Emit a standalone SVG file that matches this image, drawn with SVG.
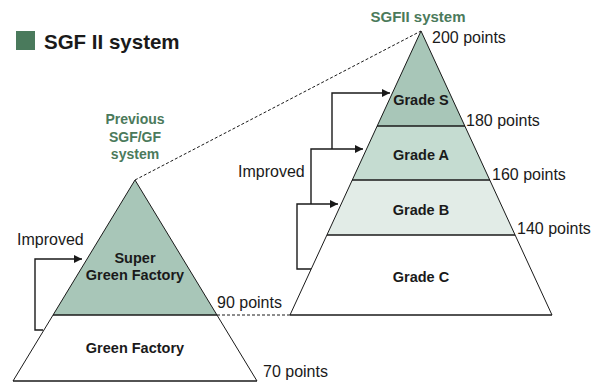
<svg xmlns="http://www.w3.org/2000/svg" width="597" height="382" viewBox="0 0 597 382">
  <style>
    text { font-family: "Liberation Sans", Arial, sans-serif; fill: #1a1a1a; }
    .lbl { font-size: 16px; }
    .tier { font-size: 14.5px; font-weight: bold; text-anchor: middle; }
    .green { fill: #4b7a5b; font-weight: bold; text-anchor: middle; }
    .edge { stroke: #1a1a1a; stroke-width: 1; fill: none; }
    .div { stroke: #1a1a1a; stroke-width: 1.4; }
    .dash { stroke: #1a1a1a; stroke-width: 1; stroke-dasharray: 3 2; fill: none; }
    .arrow { stroke: #1a1a1a; stroke-width: 1.4; fill: none; marker-end: url(#head); }
  </style>
  <defs>
    <marker id="head" viewBox="0 0 10 10" refX="10" refY="5" markerWidth="10" markerHeight="8" markerUnits="userSpaceOnUse" orient="auto">
      <path d="M0,0 L10,5 L0,10 Z" fill="#1a1a1a"/>
    </marker>
  </defs>

  <rect width="597" height="382" fill="#ffffff"/>

  <!-- heading -->
  <g id="heading">
    <rect x="16" y="31" width="19" height="19" fill="#4a7a5c"/>
    <text x="44" y="49" font-size="20.5" font-weight="bold">SGF II system</text>
  </g>

  <!-- previous SGF/GF pyramid -->
  <g id="super-green-factory">
    <polygon points="135,180 217,315 53,315" fill="#a8c6b8"/>
    <text class="tier" x="135" y="263">Super</text>
    <text class="tier" x="135" y="280">Green Factory</text>
  </g>
  <g id="green-factory">
    <polygon points="53,315 217,315 257,381 13,381" fill="#ffffff"/>
    <text class="tier" x="135" y="353">Green Factory</text>
  </g>
  <g id="previous-outline">
    <polyline class="edge" points="13,381 135,180 257,381"/>
    <line class="div" x1="13" y1="381" x2="257" y2="381"/>
    <line class="div" x1="53" y1="315" x2="217" y2="315"/>
    <text class="green" x="135" y="124" font-size="14">Previous</text>
    <text class="green" x="135" y="142" font-size="14">SGF/GF</text>
    <text class="green" x="135" y="159" font-size="14">system</text>
    <text class="lbl" x="217" y="308">90 points</text>
    <text class="lbl" x="263" y="377">70 points</text>
  </g>

  <!-- SGFII pyramid -->
  <g id="grade-s">
    <polygon points="421,31 465,126 377,126" fill="#a8c6b8"/>
    <text class="tier" x="421" y="105">Grade S</text>
  </g>
  <g id="grade-a">
    <polygon points="377,126 465,126 490,180 352,180" fill="#c5dcd1"/>
    <text class="tier" x="421" y="160">Grade A</text>
  </g>
  <g id="grade-b">
    <polygon points="352,180 490,180 515,235 327,235" fill="#e2ece7"/>
    <text class="tier" x="421" y="215">Grade B</text>
  </g>
  <g id="grade-c">
    <polygon points="327,235 515,235 552,315 290,315" fill="#ffffff"/>
    <text class="tier" x="421" y="282">Grade C</text>
  </g>
  <g id="sgfii-outline">
    <polyline class="edge" points="290,315 421,31 552,315"/>
    <line class="div" x1="290" y1="315" x2="552" y2="315"/>
    <line class="div" x1="377" y1="126" x2="465" y2="126"/>
    <line class="div" x1="352" y1="180" x2="490" y2="180"/>
    <line class="div" x1="327" y1="235" x2="515" y2="235"/>
    <text class="green" x="418" y="22" font-size="15">SGFII system</text>
    <text class="lbl" x="432" y="43">200 points</text>
    <text class="lbl" x="466" y="126">180 points</text>
    <text class="lbl" x="492" y="180">160 points</text>
    <text class="lbl" x="517" y="234">140 points</text>
  </g>

  <!-- connectors -->
  <g id="connectors">
    <line class="dash" x1="135" y1="180" x2="421" y2="31"/>
    <line class="dash" x1="217" y1="315" x2="290" y2="315"/>
    <polyline class="arrow" points="43,330 35,330 35,259 82,259"/>
    <polyline class="arrow" points="311,269 297,269 297,204 338,204"/>
    <polyline class="arrow" points="311,204 311,149 363,149"/>
    <polyline class="arrow" points="332,149 332,93 390,93"/>
    <text class="lbl" x="17" y="245">Improved</text>
    <text class="lbl" x="238" y="177">Improved</text>
  </g>
</svg>
